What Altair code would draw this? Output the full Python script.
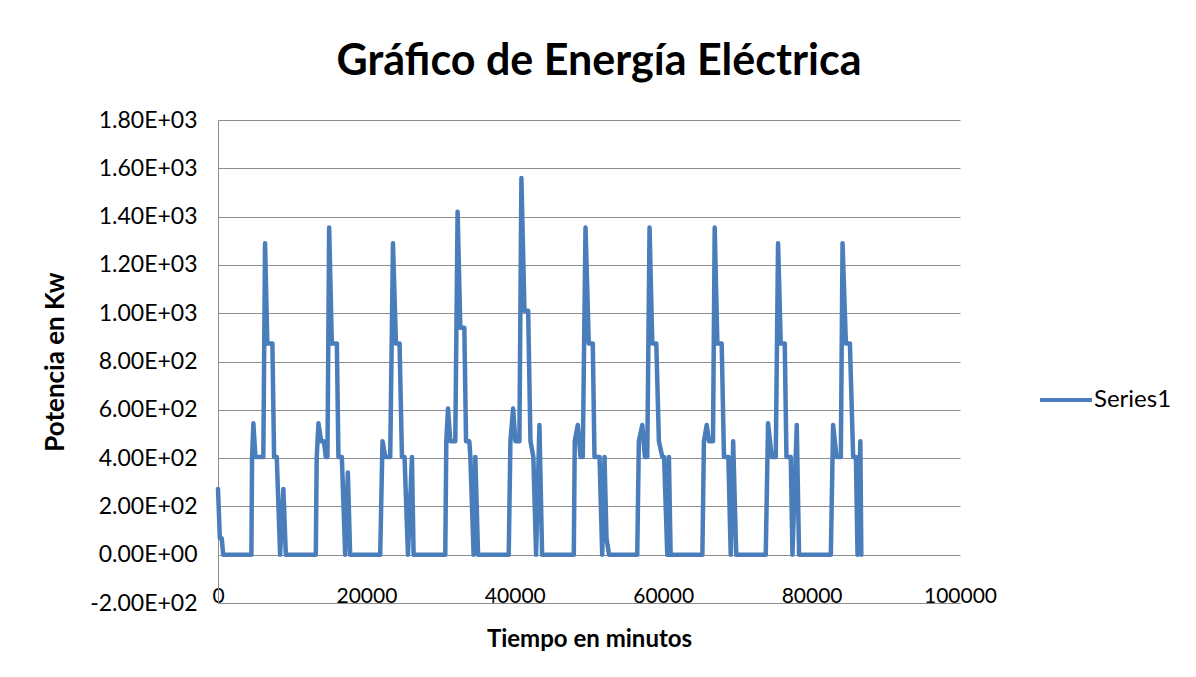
import altair as alt
import pandas as pd

# Tiempo (minutos) y Potencia (kW), ciclo por ciclo
c0_t = [0, 250, 500, 700, 4500, 4590, 4770, 5040, 6110, 6340, 6650, 7330, 7560, 7920, 8370, 8810, 9140]
c0_p = [272, 68, 68, 0, 0, 400, 544, 405, 405, 1290, 875, 875, 405, 405, 0, 272, 0]
c1_t = [13180, 13300, 13540, 13900, 14260, 14530, 14750, 14980, 15340, 16020, 16230, 16690, 17140, 17500, 17810]
c1_p = [0, 400, 544, 470, 470, 405, 405, 1355, 875, 875, 405, 405, 0, 340, 0]
c2_t = [21860, 22170, 22540, 23210, 23580, 23980, 24470, 24790, 25140, 25600, 26140, 26360]
c2_p = [0, 470, 405, 405, 1290, 875, 875, 405, 405, 0, 405, 0]
c3_t = [30630, 30770, 31000, 31310, 31980, 32290, 32660, 33200, 33430, 33870, 34010, 34450, 34680, 35050]
c3_p = [0, 470, 605, 470, 470, 1420, 940, 940, 470, 470, 405, 0, 405, 0]
c4_t = [39180, 39410, 39770, 40080, 40620, 40890, 41300, 41800, 42110, 42500, 42870, 43320, 43680]
c4_p = [0, 470, 605, 470, 470, 1560, 1010, 1010, 470, 405, 0, 537, 0]
c5_t = [47950, 48080, 48490, 48850, 49160, 49530, 49970, 50510, 50740, 51420, 51780, 52090, 52360, 52700]
c5_p = [0, 470, 537, 405, 405, 1355, 875, 875, 405, 405, 0, 405, 68, 0]
c6_t = [56500, 56720, 57180, 57530, 57850, 58160, 58530, 59070, 59420, 59880, 60120, 60550, 60770, 61000]
c6_p = [0, 470, 537, 405, 405, 1355, 875, 875, 470, 405, 405, 0, 405, 0]
c7_t = [65280, 65490, 65860, 66170, 66710, 66940, 67300, 67880, 68190, 68780, 69100, 69430, 69840]
c7_p = [0, 470, 537, 470, 470, 1355, 875, 875, 405, 405, 0, 470, 0]
c8_t = [73820, 74130, 74630, 75170, 75480, 75840, 76380, 76610, 77190, 77420, 78000, 78310]
c8_p = [0, 544, 405, 405, 1290, 875, 875, 405, 405, 0, 537, 0]
c9_t = [82590, 82900, 83360, 83940, 84170, 84620, 85160, 85600, 85970, 86190, 86570, 86700]
c9_p = [0, 537, 405, 405, 1290, 875, 875, 405, 405, 0, 470, 0]

tiempo = c0_t + c1_t + c2_t + c3_t + c4_t + c5_t + c6_t + c7_t + c8_t + c9_t
potencia = c0_p + c1_p + c2_p + c3_p + c4_p + c5_p + c6_p + c7_p + c8_p + c9_p

x_ticks = [0, 20000, 40000, 60000, 80000, 100000]
y_ticks = [-200, 0, 200, 400, 600, 800, 1000, 1200, 1400, 1600, 1800]

df = pd.DataFrame({"Tiempo": tiempo, "Potencia": potencia})
df["Serie"] = "Series1"

FONT = "Lato"
GRID = "#8e8e8e"

y_label_expr = (
    "datum.value == 0 ? '0.00E+00' : "
    "(datum.value < 0 ? '-' : '') + "
    "(abs(datum.value) >= 1000 ? format(abs(datum.value) / 1000, '.2f') + 'E+03' "
    ": format(abs(datum.value) / 100, '.2f') + 'E+02')"
)

chart = (
    alt.Chart(df)
    .mark_line(strokeWidth=4.5, strokeJoin="round", strokeCap="round")
    .encode(
        x=alt.X(
            "Tiempo:Q",
            scale=alt.Scale(domain=[0, 100000], nice=False, zero=False),
            axis=alt.Axis(
                values=x_ticks,
                format="d",
                grid=False,
                ticks=False,
                tickSize=0,
                labelPadding=-1,
                labelBaseline="alphabetic",
                labelFlush=False,
                labelFont=FONT,
                labelFontSize=21,
                labelColor="#000000",
                domainColor=GRID,
                domainWidth=1,
                title="Tiempo en minutos",
                titleFont=FONT,
                titleFontSize=24,
                titleFontWeight="bold",
                titleColor="#000000",
                titleBaseline="middle",
                titleY=36,
            ),
        ),
        y=alt.Y(
            "Potencia:Q",
            scale=alt.Scale(domain=[-200, 1800], nice=False, zero=False),
            axis=alt.Axis(
                values=y_ticks,
                labelExpr=y_label_expr,
                grid=True,
                gridColor=GRID,
                gridWidth=1,
                ticks=False,
                tickSize=0,
                labelPadding=21,
                labelFont=FONT,
                labelFontSize=23,
                labelColor="#000000",
                domainColor=GRID,
                domainWidth=1,
                title="Potencia en Kw",
                titleFont=FONT,
                titleFontSize=26,
                titleFontWeight="bold",
                titleColor="#000000",
                titleBaseline="middle",
                titleX=-163,
            ),
        ),
        color=alt.Color(
            "Serie:N",
            scale=alt.Scale(domain=["Series1"], range=["#4a7ebb"]),
            legend=alt.Legend(
                title=None,
                orient="none",
                legendX=820,
                legendY=252,
                symbolType="stroke",
                symbolSize=2704,
                symbolStrokeWidth=4,
                labelFont=FONT,
                labelFontSize=24,
                labelColor="#000000",
                labelOffset=0,
            ),
        ),
    )
    .properties(
        width=742,
        height=483,
        autosize=alt.AutoSizeParams(type="none"),
        padding={"left": 210, "top": 112, "right": 228, "bottom": 66},
        background="white",
        title=alt.TitleParams(
            "Gráfico de Energía Eléctrica",
            font=FONT,
            fontSize=43,
            fontWeight="bold",
            color="#000000",
            anchor="middle",
            baseline="alphabetic",
            dx=10,
            dy=44,
            offset=35,
        ),
    )
    .configure_view(stroke=None)
)

chart.save("out.html", embed_options={"renderer": "svg", "actions": False})
